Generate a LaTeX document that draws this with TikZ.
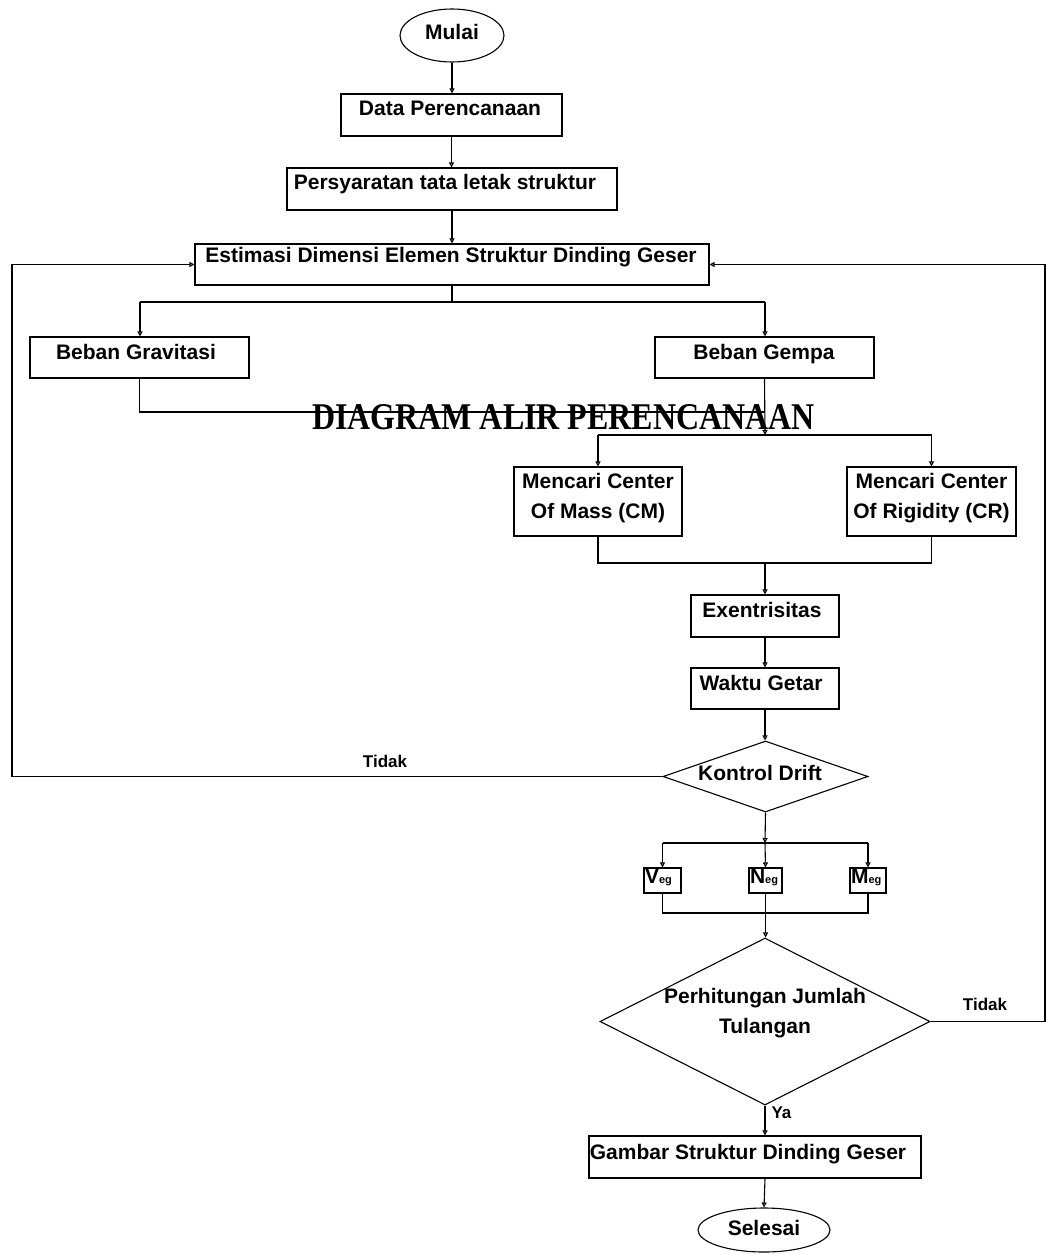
\documentclass[tikz,border=0pt]{standalone}
\usepackage{graphicx}
\usepackage{fontspec}
\setmainfont{Liberation Sans}
\newfontfamily\titlefont{Liberation Serif}
\usetikzlibrary{shapes.geometric,arrows.meta}
\begin{document}
\begin{tikzpicture}[x=1pt,y=-1pt,line width=1.1pt,
  box/.style={draw, rectangle, inner sep=0pt},
  term/.style={draw, ellipse, inner sep=0pt},
  dec/.style={draw, diamond, inner sep=0pt},
  txt/.style={font=\fontsize{21pt}{30pt}\selectfont\bfseries, inner sep=0pt, anchor=base, align=center},
  lbl/.style={font=\fontsize{17pt}{20pt}\selectfont\bfseries, inner sep=0pt, anchor=base},
  arr/.style={-{Triangle[open,length=5pt,width=5pt]}}]
\useasboundingbox (0,0) rectangle (1046,1255);

% nodes
\node[term, minimum width=104pt, minimum height=53pt] (mulai) at (452,35.5) {};
\node[txt] (mulait) at (452,39.5) {Mulai};
\node[box, minimum width=221pt, minimum height=42pt] (data) at (451.5,115) {};
\node[txt] (datat) at (450,115.5) {Data Perencanaan};
\node[box, minimum width=330pt, minimum height=42pt] (pers) at (452,189) {};
\node[txt] (perst) at (445,189) {Persyaratan tata letak struktur};
\node[box, minimum width=514pt, minimum height=41pt] (est) at (452,264.5) {};
\node[txt] (estt) at (451,262) {Estimasi Dimensi Elemen Struktur Dinding Geser};
\node[box, minimum width=219pt, minimum height=41pt] (grav) at (139.5,357.5) {};
\node[txt] (gravt) at (136,359) {Beban Gravitasi};
\node[box, minimum width=219pt, minimum height=41pt] (gempa) at (764.5,357.5) {};
\node[txt] (gempat) at (764,359) {Beban Gempa};
\node[box, minimum width=168pt, minimum height=69pt] (cm) at (598,501.5) {};
\node[txt, anchor=north] (cmt) at (598,472.7) {Mencari Center\\Of Mass (CM)};
\node[box, minimum width=169pt, minimum height=69pt] (cr) at (931.5,501.5) {};
\node[txt, anchor=north] (crt) at (931.5,472.7) {Mencari Center\\Of Rigidity (CR)};
\node[box, minimum width=148pt, minimum height=42pt] (exe) at (765,616) {};
\node[txt] (exet) at (762,617) {Exentrisitas};
\node[box, minimum width=148pt, minimum height=41pt] (waktu) at (765,688.5) {};
\node[txt] (waktut) at (761,690) {Waktu Getar};
\node[dec, minimum width=205pt, minimum height=71pt] (kon) at (765.5,776.5) {};
\node[txt] (kont) at (760,780) {Kontrol Drift};
\node[box, minimum width=37pt, minimum height=25pt] (veg) at (662.5,880.5) {};
\node[txt, anchor=base west] (vegt) at (644.5,883) {V\fontsize{11pt}{12pt}\selectfont eg};
\node[box, minimum width=33pt, minimum height=25pt] (neg) at (765.5,880.5) {};
\node[txt, anchor=base west] (negt) at (749.5,883) {N\fontsize{11pt}{12pt}\selectfont eg};
\node[box, minimum width=36pt, minimum height=25pt] (meg) at (868,880.5) {};
\node[txt, anchor=base west] (megt) at (850.5,883) {M\fontsize{11pt}{12pt}\selectfont eg};
\node[dec, minimum width=330pt, minimum height=167pt] (perh) at (765,1021.5) {};
\node[txt, anchor=north] (perht) at (765,987.7) {Perhitungan Jumlah\\Tulangan};
\node[box, minimum width=332pt, minimum height=42pt] (gbr) at (755,1157) {};
\node[txt] (gbrt) at (748,1159) {Gambar Struktur Dinding Geser};
\node[term, minimum width=132pt, minimum height=44pt] (sel) at (764,1230) {};
\node[txt] (selt) at (764,1235) {Selesai};

% title
\node[font=\titlefont\bfseries, inner sep=0pt, anchor=base] (title) at (563.5,429)
  {\resizebox{503pt}{25pt}{DIAGRAM ALIR PERENCANAAN}};

% labels
\node[lbl] (tidak1) at (385,767) {Tidak};
\node[lbl] (tidak2) at (985,1010) {Tidak};
\node[lbl, anchor=base west] (ya) at (771,1118) {Ya};

% junction coordinates
\coordinate (split) at (452,302);
\coordinate (splitL) at (140,302);
\coordinate (splitR) at (765,302);
\coordinate (j1) at (765,412);
\coordinate (j2) at (765,435);
\coordinate (j3) at (765,563);
\coordinate (j4) at (765,843);
\coordinate (j5) at (765,913);
\coordinate (lx) at (12,0);
\coordinate (rx) at (1045,0);

% connectors
\draw[arr] (mulai.south) -- (mulai.south |- data.north);
\draw[arr] (data.south) -- (data.south |- pers.north);
\draw[arr] (pers.south) -- (pers.south |- est.north);
\draw (est.south) -- (split);
\draw (splitL) -- (splitR);
\draw[arr] (splitL) -- (splitL |- grav.north);
\draw[arr] (splitR) -- (splitR |- gempa.north);
\draw (grav.south) |- (j1);
\draw[arr] (gempa.south) -- (j2);
\draw (cm.north |- j2) -- (cr.north |- j2);
\draw[arr] (cm.north |- j2) -- (cm.north);
\draw[arr] (cr.north |- j2) -- (cr.north);
\draw (cm.south) |- (j3) -| (cr.south);
\draw[arr] (j3) -- (j3 |- exe.north);
\draw[arr] (exe.south) -- (waktu.north);
\draw[arr] (waktu.south) -- (waktu.south |- kon.north);
\draw[arr] (kon.west) -- (kon.west -| lx) |- (est.west);
\draw[arr] (kon.south) -- (j4);
\draw (veg.north |- j4) -- (meg.north |- j4);
\draw[arr] (veg.north |- j4) -- (veg.north);
\draw[arr] (j4) -- (neg.north);
\draw[arr] (meg.north |- j4) -- (meg.north);
\draw (veg.south) |- (j5) -| (meg.south);
\draw[arr] (neg.south) -- (neg.south |- perh.north);
\draw[arr] (perh.east) -- (perh.east -| rx) |- (est.east);
\draw[arr] (perh.south) -- (perh.south |- gbr.north);
\draw[arr] (perh.south |- gbr.south) -- (sel.north);
\end{tikzpicture}
\end{document}
